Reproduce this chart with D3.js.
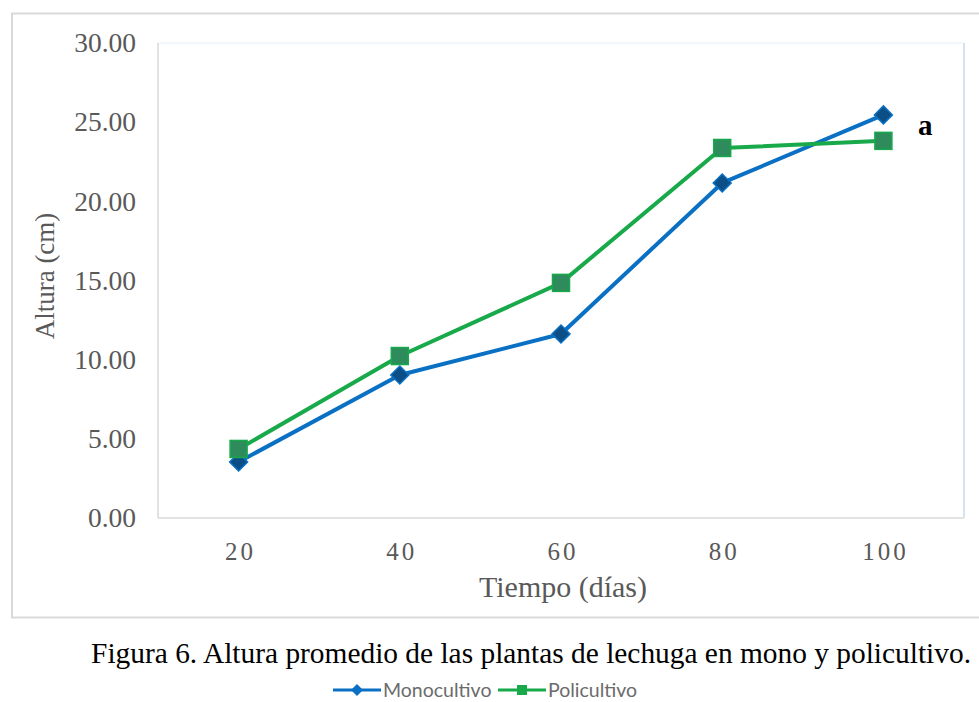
<!DOCTYPE html>
<html><head><meta charset="utf-8">
<script src="https://cdn.jsdelivr.net/npm/d3@7/dist/d3.min.js"></script>
<style>body{margin:0;background:#fff}svg{display:block}</style>
</head><body>
<svg id="c" width="979" height="702"></svg>
<script>
const days = ["20","40","60","80","100"];
const monocultivo = [3.54, 9.03, 11.62, 21.16, 25.46];
const policultivo = [4.36, 10.23, 14.85, 23.37, 23.82];
const yTicks = [0,5,10,15,20,25,30];

const svg = d3.select("#c");
const m = {l:158, r:964, t:43, b:518};
const x = d3.scalePoint().domain(days).range([m.l, m.r]).padding(0.5);
const y = d3.scaleLinear().domain([0,30]).range([m.b, m.t]);
const serif = "'Liberation Serif','Times New Roman',serif";

// outer frame
svg.append("rect").attr("x",12).attr("y",13.5).attr("width",990).attr("height",604)
  .attr("fill","none").attr("stroke","#d9d9d9").attr("stroke-width",2);

// plot area borders
svg.append("line").attr("x1",m.l).attr("x2",m.r).attr("y1",m.t).attr("y2",m.t).attr("stroke","#eef4fa").attr("stroke-width",1.5);
svg.append("line").attr("x1",m.r).attr("x2",m.r).attr("y1",m.t).attr("y2",m.b).attr("stroke","#c5dcf0").attr("stroke-width",1.5);
svg.append("line").attr("x1",m.l).attr("x2",m.l).attr("y1",m.t).attr("y2",m.b).attr("stroke","#d9d9d9").attr("stroke-width",1.5);
svg.append("line").attr("x1",m.l).attr("x2",m.r).attr("y1",m.b).attr("y2",m.b).attr("stroke","#d9d9d9").attr("stroke-width",1.5);

// y axis
const ya = svg.append("g").attr("transform",`translate(${m.l},0)`)
  .call(d3.axisLeft(y).tickValues(yTicks).tickFormat(d3.format(".2f")).tickSize(0).tickPadding(22));
ya.select(".domain").remove();
ya.selectAll("text").attr("font-family",serif).attr("font-size",27.5).attr("fill","#595959");

// x axis
const xa = svg.append("g").attr("transform",`translate(1.5,${m.b})`)
  .call(d3.axisBottom(x).tickSize(0).tickPadding(24));
xa.select(".domain").remove();
xa.selectAll("text").attr("font-family",serif).attr("font-size",25).attr("fill","#595959")
  .attr("letter-spacing","3px");

// titles
svg.append("text").attr("transform","translate(54,276) rotate(-90)").attr("text-anchor","middle")
  .attr("font-family",serif).attr("font-size",27).attr("fill","#595959").text("Altura (cm)");
svg.append("text").attr("x",563).attr("y",597).attr("text-anchor","middle")
  .attr("font-family",serif).attr("font-size",30).attr("fill","#595959").text("Tiempo (días)");

const line = d3.line().x((d,i)=>x(days[i])).y(d=>y(d));

// series
const series = [
  {name:"Monocultivo", vals:monocultivo, stroke:"#0a70c4", fill:"#0b4f86", sym:"diamond"},
  {name:"Policultivo", vals:policultivo, stroke:"#17a94a", fill:"#2e8b5c", sym:"square"}
];
series.forEach(s=>{
  svg.append("path").datum(s.vals).attr("d",line).attr("fill","none")
    .attr("stroke",s.stroke).attr("stroke-width",4).attr("stroke-linejoin","round");
});
series.forEach(s=>{
  svg.selectAll(null).data(s.vals).enter().append("g")
    .attr("transform",(d,i)=>`translate(${x(days[i])},${y(d)})`)
    .each(function(){
      const g=d3.select(this);
      if(s.sym==="diamond"){
        g.append("path").attr("d","M0,-9L9,0L0,9L-9,0Z").attr("fill",s.fill).attr("stroke",s.stroke).attr("stroke-width",1.5);
      } else {
        g.append("rect").attr("x",-8.5).attr("y",-8.5).attr("width",17).attr("height",17).attr("fill",s.fill).attr("stroke",s.stroke).attr("stroke-width",1.5);
      }
    });
});

// annotation
svg.append("text").attr("x",918).attr("y",135).attr("font-family",serif).attr("font-size",29)
  .attr("font-weight","bold").attr("fill","#000").text("a");

// caption
svg.append("text").attr("x",971).attr("y",663).attr("text-anchor","end")
  .attr("font-family",serif).attr("font-size",29.4).attr("fill","#000")
  .text("Figura 6. Altura promedio de las plantas de lechuga en mono y policultivo.");

// legend
const lg = svg.append("g").attr("transform","translate(0,690)");
const legX = [333, 498];
series.forEach((s,i)=>{
  const g = lg.append("g").attr("transform",`translate(${legX[i]},0)`);
  g.append("line").attr("x1",0).attr("x2",48).attr("y1",0).attr("y2",0).attr("stroke",s.stroke).attr("stroke-width",3);
  if(s.sym==="diamond") g.append("path").attr("d","M24,-6L30,0L24,6L18,0Z").attr("fill",s.stroke);
  else g.append("rect").attr("x",19).attr("y",-5).attr("width",10).attr("height",10).attr("fill",s.stroke);
  g.append("text").attr("x",50).attr("y",7).attr("font-family","Lato, 'Open Sans', sans-serif").attr("font-size",19.5)
    .attr("fill","#6b6b6b").text(s.name);
});
</script>
</body></html>
